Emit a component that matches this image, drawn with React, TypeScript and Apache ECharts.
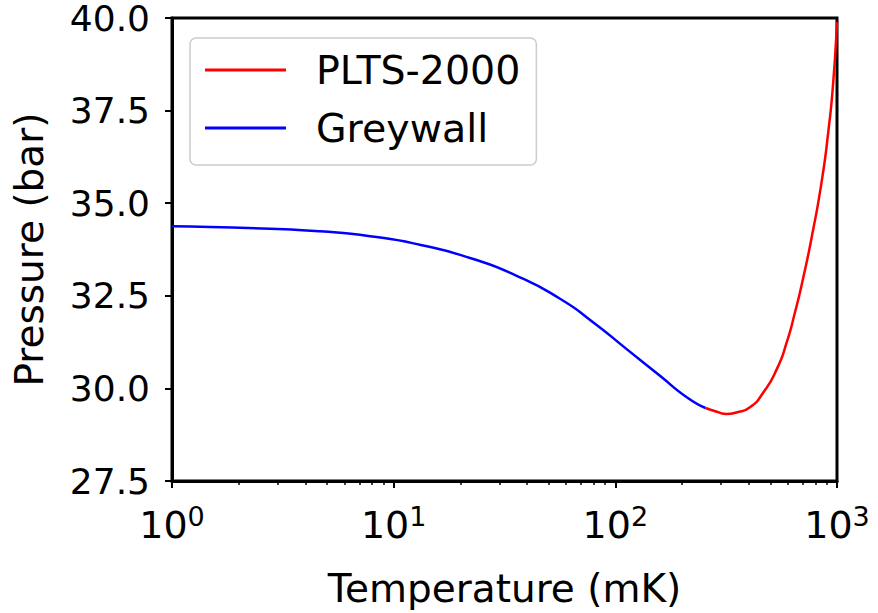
import React, { useEffect, useRef } from "react";
import * as echarts from "echarts";

// Greywall curve: temperature (mK) and pressure (bar)
const greywallT = [1.0, 2.77, 4.65, 7.82, 13.1, 22.1, 35.3, 56.3, 79.6, 112.5, 159, 210, 255];
const greywallP = [34.38, 34.31, 34.24, 34.11, 33.88, 33.52, 33.06, 32.42, 31.78, 31.06, 30.34, 29.76, 29.47];

// PLTS-2000 curve
const pltsT = [255, 287, 318, 352, 405, 465, 535, 593, 646, 699, 778, 853, 914, 962, 1000];
const pltsP = [29.47, 29.37, 29.31, 29.35, 29.49, 29.89, 30.52, 31.24, 32.05, 32.9, 34.24, 35.59, 36.94, 38.28, 39.9];

const seriesNames = ["PLTS-2000", "Greywall"];
const xMajorTicks = [1, 10, 100, 1000];
const xMinorTicks = [2, 3, 4, 5, 6, 7, 8, 9, 20, 30, 40, 50, 60, 70, 80, 90, 200, 300, 400, 500, 600, 700, 800, 900];
const yTicks = [27.5, 30.0, 32.5, 35.0, 37.5, 40.0];

const FONT = "DejaVu Sans";

export default function App() {
  const ref = useRef<HTMLDivElement>(null);
  useEffect(() => {
    if (!ref.current) return;
    const chart = echarts.init(ref.current, undefined, { renderer: "svg" });
    const pairs = (xs: number[], ys: number[]) => xs.map((x, i) => [x, ys[i]]);
    chart.setOption({
      animation: false,
      backgroundColor: "#fff",
      grid: {
        left: 172,
        right: 41,
        top: 18,
        bottom: 131,
        show: true,
        borderColor: "#000",
        borderWidth: 3,
      },
      legend: {
        orient: "vertical",
        left: 190,
        top: 38,
        data: seriesNames,
        icon: "rect",
        backgroundColor: "rgba(255,255,255,0.8)",
        borderColor: "#cccccc",
        borderWidth: 1.5,
        borderRadius: 6,
        padding: [10, 16, 15, 15],
        itemWidth: 81,
        itemHeight: 3,
        itemGap: 14,
        textStyle: {
          fontFamily: FONT,
          fontSize: 39.5,
          color: "#000",
          lineHeight: 44,
          padding: [0, 0, 0, 25],
        },
      },
      xAxis: [
        {
          type: "log",
          logBase: 10,
          min: 1,
          max: 1000,
          name: "Temperature (mK)",
          nameLocation: "middle",
          nameGap: 88,
          nameTextStyle: { fontFamily: FONT, fontSize: 39, color: "#000" },
          axisLine: { show: true, lineStyle: { color: "#000", width: 3 } },
          axisTick: { show: true, length: 7, lineStyle: { color: "#000", width: 2 }, customValues: xMajorTicks },
          axisLabel: {
            customValues: xMajorTicks,
            margin: 22,
            color: "#000",
            fontFamily: FONT,
            formatter: (v: number) => `{b|10}{s|${Math.round(Math.log10(v))}}`,
            rich: {
              b: { fontFamily: FONT, fontSize: 38, color: "#000", lineHeight: 44 },
              s: { fontFamily: FONT, fontSize: 27, color: "#000", verticalAlign: "top", lineHeight: 30 },
            },
          },
          splitLine: { show: false },
          minorTick: { show: false },
        },
        {
          type: "log",
          logBase: 10,
          min: 1,
          max: 1000,
          position: "bottom",
          gridIndex: 0,
          axisLine: { show: false },
          axisTick: { show: true, length: 4, lineStyle: { color: "#000", width: 1.5 }, customValues: xMinorTicks },
          axisLabel: { show: false },
          splitLine: { show: false },
        },
      ],
      yAxis: {
        type: "value",
        min: 27.5,
        max: 40,
        interval: 2.5,
        name: "Pressure (bar)",
        nameLocation: "middle",
        nameGap: 123,
        nameTextStyle: { fontFamily: FONT, fontSize: 39, color: "#000" },
        axisLine: { show: true, lineStyle: { color: "#000", width: 3 } },
        axisTick: { show: true, length: 7, lineStyle: { color: "#000", width: 2 } },
        axisLabel: {
          margin: 22,
          fontFamily: FONT,
          fontSize: 36,
          lineHeight: 32,
          color: "#000",
          formatter: (v: number) => (yTicks.includes(v) ? v.toFixed(1) : ""),
        },
        splitLine: { show: false },
      },
      series: [
        {
          name: seriesNames[0],
          type: "line",
          data: pairs(pltsT, pltsP),
          symbol: "none",
          smooth: 0.6,
          lineStyle: { color: "#ff0000", width: 2.5 },
          itemStyle: { color: "#ff0000" },
          z: 2,
        },
        {
          name: seriesNames[1],
          type: "line",
          data: pairs(greywallT, greywallP),
          symbol: "none",
          smooth: 0.6,
          lineStyle: { color: "#0000ff", width: 2.5 },
          itemStyle: { color: "#0000ff" },
          z: 3,
        },
      ],
    });
    return () => chart.dispose();
  }, []);
  return <div ref={ref} style={{ width: 878, height: 613, position: "absolute", left: 0, top: 0 }} />;
}
